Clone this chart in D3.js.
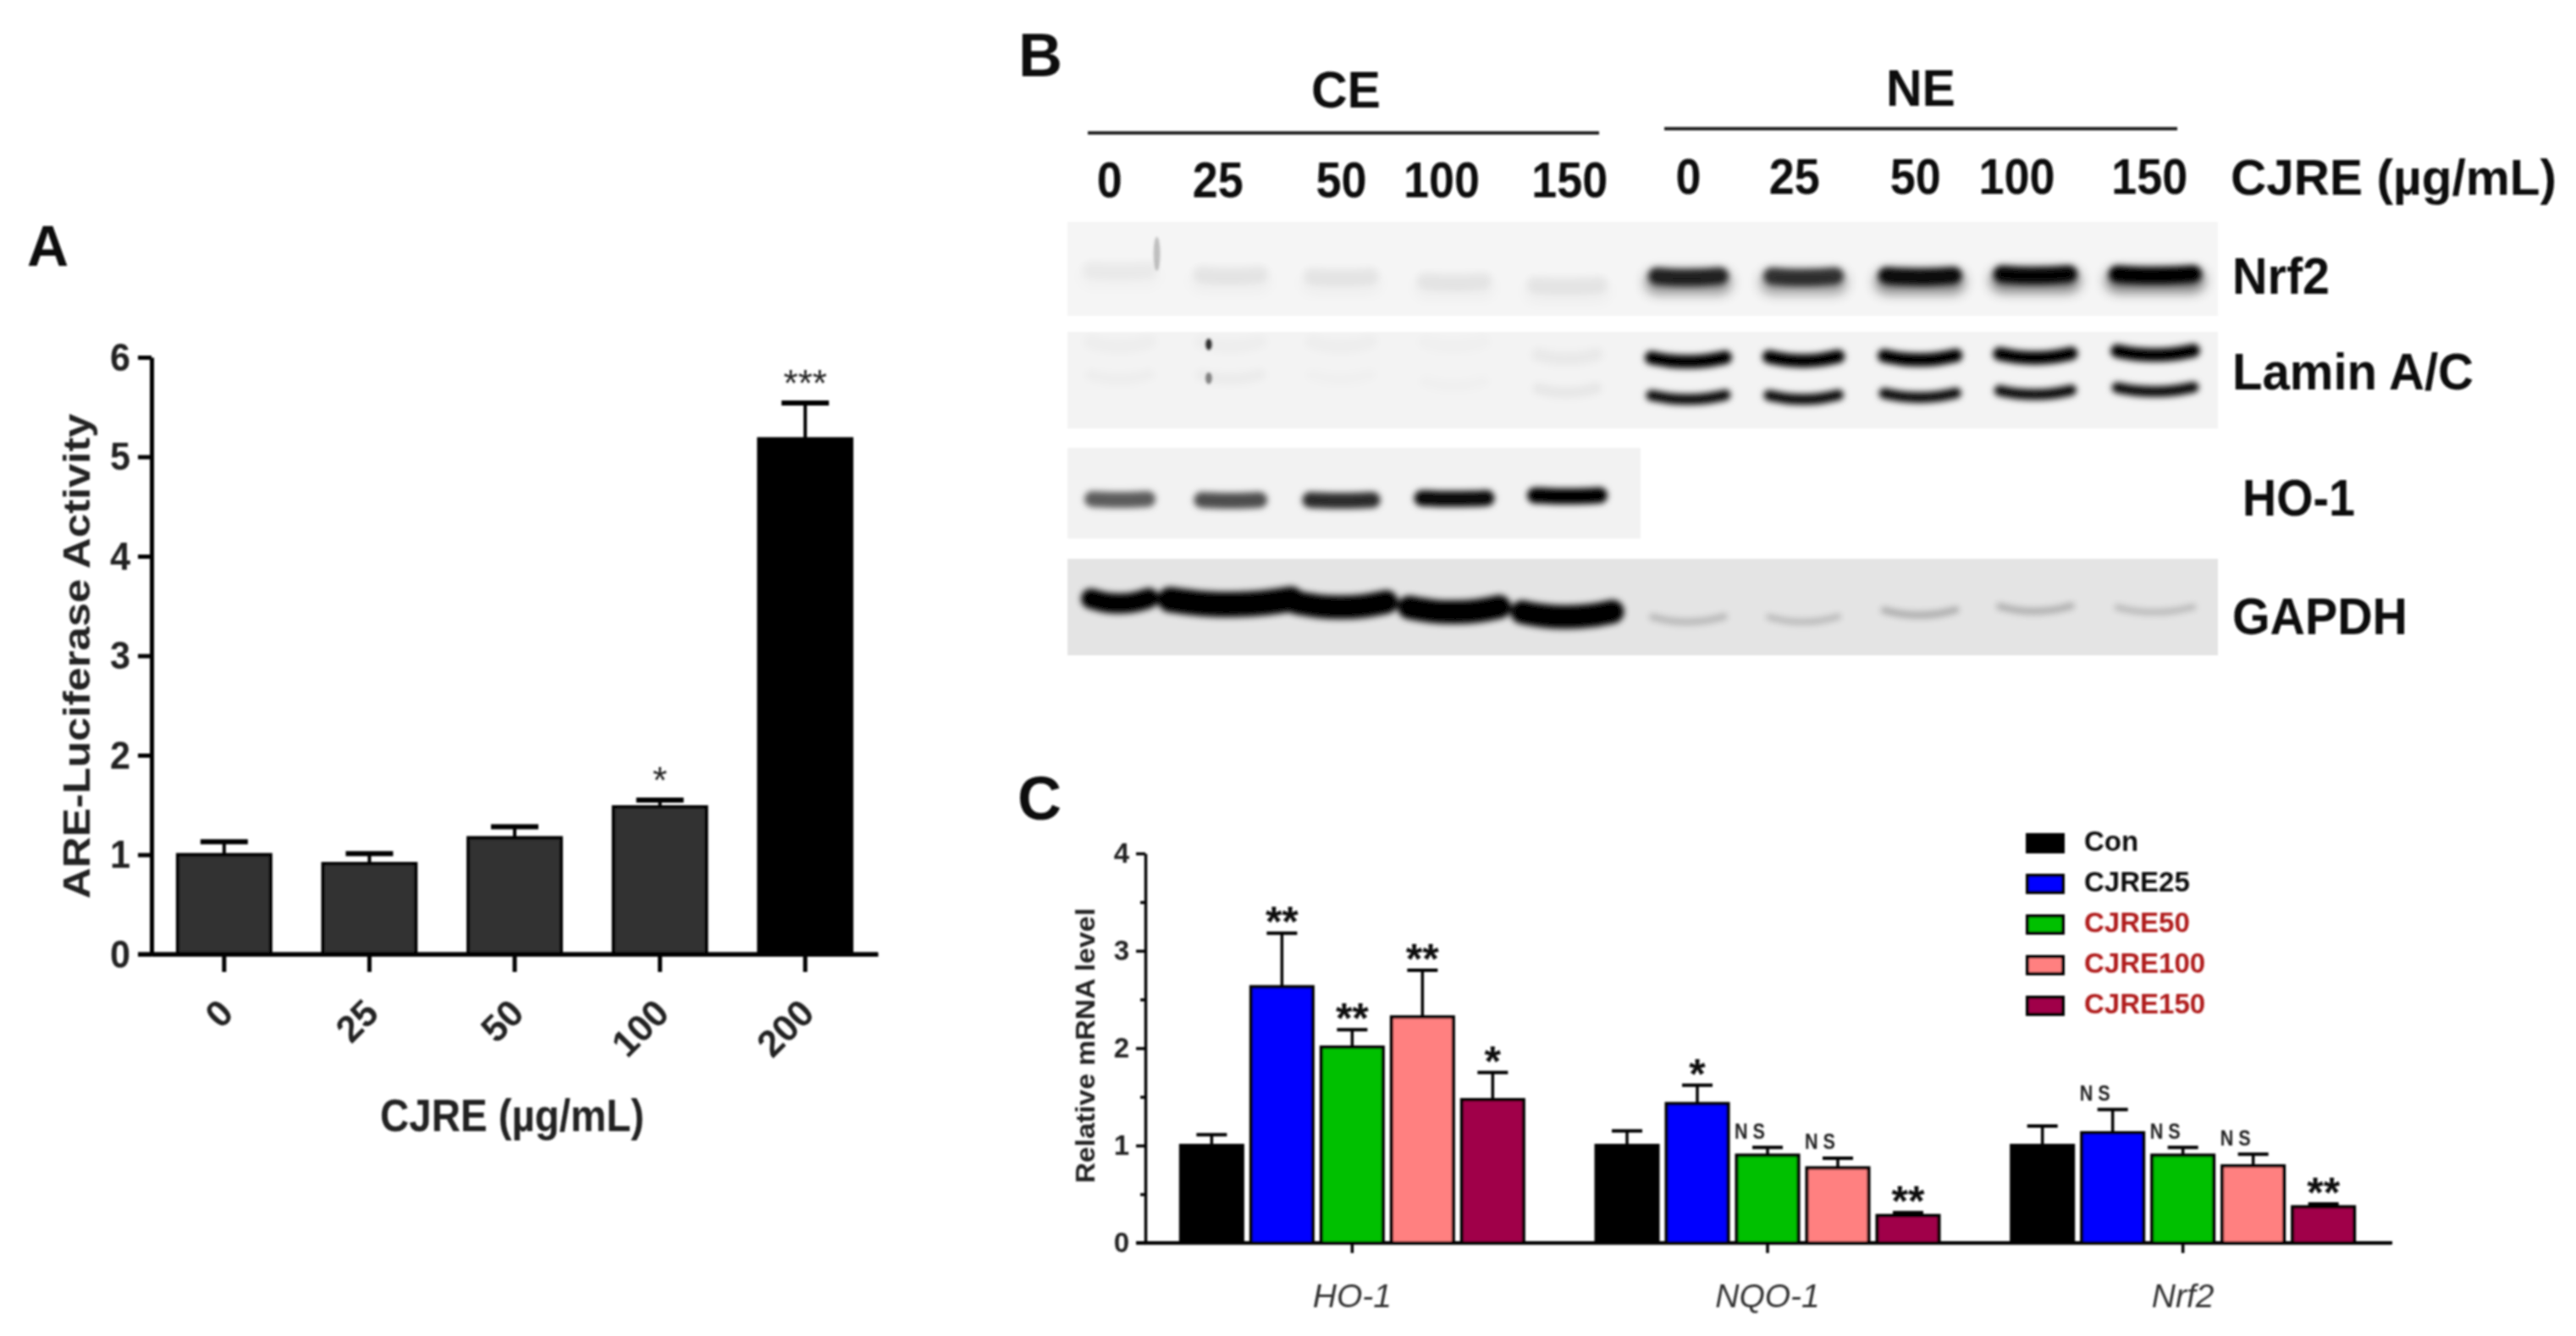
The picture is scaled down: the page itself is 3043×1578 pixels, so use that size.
<!DOCTYPE html>
<html lang="en">
<head>
    <meta charset="UTF-8">
    <title>CJRE panels</title>
    <style>
        body { margin: 0; background: #fff; }
        svg { display: block; }
        text { font-family: "Liberation Sans", Arial, sans-serif; }
    </style>
</head>
<body>
    <svg id="fig" width="3043" height="1578"></svg>
    <script src="https://d3js.org/d3.v7.min.js"></script>
    <script>
        // Panel A values
        var doseA = ["0", "25", "50", "100", "200"];
        var meanA = [1.0, 0.91, 1.17, 1.48, 5.18];
        var errTopA = [1.13, 1.01, 1.28, 1.55, 5.54];
        var sigA = ["", "", "", "*", "***"];

        // Panel C values
        var genes = ["HO-1", "NQO-1", "Nrf2"];
        var groupsC = ["Con", "CJRE25", "CJRE50", "CJRE100", "CJRE150"];
        var coloursC = ["#000000", "#0000ff", "#00c000", "#ff8080", "#a00048"];
        var legendInk = ["#111111", "#111111", "#b01c1c", "#b01c1c", "#b01c1c"];
        var meanC = [[1.0, 2.63, 2.01, 2.32, 1.47], [1.0, 1.43, 0.9, 0.77, 0.28], [1.0, 1.13, 0.9, 0.79, 0.37]];
        var errTopC = [[1.11, 3.18, 2.19, 2.8, 1.75], [1.15, 1.62, 0.98, 0.87, 0.31], [1.2, 1.37, 0.98, 0.91, 0.4]];
        var sigC = [["", "**", "**", "**", "*"], ["", "*", "N S", "N S", "**"], ["", "N S", "N S", "N S", "**"]];

        // Panel B: lane position in lane units, band position in % of blot height, density 0-1
        var laneLabels = ["0", "25", "50", "100", "150", "0", "25", "50", "100", "150"];
        var laneCentres = [0, 0.96, 1.92, 2.9, 3.88, 4.93, 5.93, 6.94, 7.94, 8.98];
        var labelCentres = [-0.09, 0.85, 1.92, 2.79, 3.9, 4.93, 5.85, 6.9, 7.78, 8.93];
        var nrf2Pos = [52, 57, 59, 64, 68, 58.5, 58.5, 58, 56.5, 56.5];
        var nrf2Density = [0.03, 0.05, 0.05, 0.05, 0.05, 0.8, 0.72, 0.92, 0.97, 1];
        var nrf2Width = [0.5, 0.5, 0.5, 0.5, 0.55, 0.55, 0.55, 0.58, 0.58, 0.66];
        var laminUpPos = [13, 13, 13, 13, 26, 29, 28, 27, 25, 22];
        var laminUpDensity = [0.02, 0.02, 0.02, 0.01, 0.04, 1, 1, 1, 1, 1];
        var laminLowPos = [47, 47, 47, 54, 61, 68, 68, 66, 63, 60];
        var laminLowDensity = [0.02, 0.03, 0.01, 0.01, 0.05, 0.95, 0.95, 0.95, 0.95, 0.95];
        var laminWidth = [0.5, 0.5, 0.5, 0.5, 0.5, 0.64, 0.6, 0.62, 0.62, 0.66];
        var ho1Pos = [57, 58, 58, 56, 53];
        var ho1Density = [0.62, 0.68, 0.82, 0.97, 1];
        var ho1Width = [0.48, 0.5, 0.54, 0.56, 0.56];
        var gapdhPos = [44, 45, 48, 53, 58, 63, 63, 56, 52, 53];
        var gapdhDensity = [1, 1, 1, 1, 1, 0.2, 0.2, 0.25, 0.24, 0.2];
        var gapdhWidth = [0.5, 1.05, 0.78, 0.78, 0.78, 0.62, 0.6, 0.62, 0.62, 0.66];
        var gapdhThick = [24, 30, 28, 28, 28, 8, 7, 8, 8, 7];
        var specksLane = [0.32, 0.77, 0.77];
        var specksBlot = ["nrf2", "lamin", "lamin"];
        var specksPos = [34, 13, 48];
        var specksDensity = [0.22, 0.8, 0.45];

        var svg = d3.select("#fig");
        var defs = svg.append("defs");
        function blurFilter(id, sd) {
            defs.append("filter").attr("id", id)
                .attr("filterUnits", "userSpaceOnUse")
                .attr("x", 0).attr("y", 0).attr("width", 3043).attr("height", 1578)
                .append("feGaussianBlur").attr("stdDeviation", sd);
        }
        blurFilter("soft", 1.1);
        blurFilter("band", 3.5);
        blurFilter("smear", 7);

        var root = svg.append("g").attr("filter", "url(#soft)");

        // text helper, y is the vertical middle of the text
        function label(g, str, x, y, size, o) {
            o = o || {};
            var t = g.append("text")
                .attr("transform", "translate(" + x + "," + y + ")" + (o.rotate ? " rotate(" + o.rotate + ")" : ""))
                .attr("dy", "0.36em")
                .attr("text-anchor", o.anchor || "middle")
                .attr("font-size", size)
                .attr("font-weight", o.weight || "bold")
                .attr("font-style", o.style || "normal")
                .attr("fill", o.fill || "#111")
                .text(str);
            if (o.len) t.attr("textLength", o.len).attr("lengthAdjust", "spacingAndGlyphs");
            return t;
        }

        label(root, "A", 32, 290, 68, { anchor: "start" });
        label(root, "B", 1203, 64, 72, { anchor: "start" });
        label(root, "C", 1202, 942, 72, { anchor: "start" });

        // ---------- Panel A ----------
        var gA = root.append("g");
        var xA = d3.scaleBand().domain(doseA).range([179, 1037]).paddingInner(0.36).paddingOuter(0.18);
        var yA = d3.scaleLinear().domain([0, 6]).range([1127, 422]);

        function errorBars(g, cx, top, base, capW, capSW, stemSW) {
            g.append("line").attr("x1", cx).attr("x2", cx).attr("y1", top).attr("y2", base)
                .attr("stroke", "#000").attr("stroke-width", stemSW);
            g.append("line").attr("x1", cx - capW / 2).attr("x2", cx + capW / 2).attr("y1", top).attr("y2", top)
                .attr("stroke", "#000").attr("stroke-width", capSW);
        }

        doseA.forEach(function (d, i) {
            var cx = xA(d) + xA.bandwidth() / 2;
            errorBars(gA, cx, yA(errTopA[i]), yA(meanA[i]), 56, 6, 4);
            gA.append("rect")
                .attr("x", xA(d)).attr("y", yA(meanA[i]))
                .attr("width", xA.bandwidth()).attr("height", yA(0) - yA(meanA[i]))
                .attr("fill", i == 4 ? "#000" : "#333")
                .attr("stroke", "#000").attr("stroke-width", 4);
            if (sigA[i]) label(gA, sigA[i], cx, yA(errTopA[i]) - 24, 44, { weight: "normal", fill: "#222" });
        });

        var axisAy = gA.append("g").attr("transform", "translate(179,0)")
            .call(d3.axisLeft(yA).tickValues([0, 1, 2, 3, 4, 5, 6]).tickFormat(d3.format("d")).tickSize(16).tickSizeOuter(0).tickPadding(9));
        var axisAx = gA.append("g").attr("transform", "translate(0,1127)")
            .call(d3.axisBottom(xA).tickSize(21).tickSizeOuter(0));
        axisAy.selectAll("text").attr("font-size", 47).attr("font-weight", "bold").attr("fill", "#222")
            .attr("textLength", 24).attr("lengthAdjust", "spacingAndGlyphs")
            .attr("font-family", "Liberation Sans");
        axisAx.selectAll("text").remove();
        doseA.forEach(function (d) {
            var cx = xA(d) + xA.bandwidth() / 2;
            label(gA, d, cx + 2, 1188, 44, { anchor: "end", rotate: -45, fill: "#222" });
        });
        gA.selectAll(".domain, .tick line").attr("stroke", "#000").attr("stroke-width", 5);
        // x axis line also runs through the y tick at zero
        gA.append("line").attr("x1", 163).attr("x2", 1037).attr("y1", yA(0)).attr("y2", yA(0))
            .attr("stroke", "#000").attr("stroke-width", 5);

        label(gA, "ARE-Luciferase Activity", 90, 775, 44, { rotate: -90, len: 573, fill: "#222" });
        label(gA, "CJRE (\u00b5g/mL)", 605, 1317, 54, { len: 312, fill: "#222" });

        // ---------- Panel B ----------
        var gB = root.append("g");
        var xLane = d3.scaleLinear().domain([0, 8.98]).range([1323, 2546]);
        var laneUnit = xLane(1) - xLane(0);

        function blot(x0, x1, y0, y1, bg) {
            gB.append("rect").attr("x", x0).attr("y", y0).attr("width", x1 - x0).attr("height", y1 - y0).attr("fill", bg);
            return d3.scaleLinear().domain([0, 100]).range([y0, y1]);
        }
        var bandLine = d3.line().curve(d3.curveBasis);
        function bands(y, pos, density, width, thick, bow, filter) {
            var g = gB.append("g").attr("filter", "url(#" + filter + ")");
            pos.forEach(function (p, i) {
                var cx = xLane(laneCentres[i]), cy = y(p), w = width[i] * laneUnit;
                var t = typeof thick == "number" ? thick : thick[i];
                g.append("path")
                    .attr("d", bandLine([[cx - w / 2, cy - bow], [cx - w / 4, cy + bow * 0.7], [cx, cy + bow],
                        [cx + w / 4, cy + bow * 0.6], [cx + w / 2, cy - bow * 1.2]]))
                    .attr("fill", "none").attr("stroke", "#000").attr("stroke-linecap", "round")
                    .attr("stroke-width", t).attr("stroke-opacity", density[i]);
            });
        }

        var yNrf2 = blot(1261, 2620, 262, 373, "#f5f5f5");
        var yLamin = blot(1261, 2620, 392, 506, "#f3f3f3");
        var yHo1 = blot(1261, 1938, 529, 636, "#f2f2f2");
        var yGapdh = blot(1261, 2620, 660, 774, "#e4e4e4");

        bands(yNrf2, nrf2Pos.map(function (p) { return p + 6; }), nrf2Density.map(function (d) { return d * 0.5; }), nrf2Width, 28, 0, "smear");
        bands(yNrf2, nrf2Pos, nrf2Density, nrf2Width, 20, 1, "band");
        bands(yLamin, laminUpPos, laminUpDensity, laminWidth, 16, 2.5, "band");
        bands(yLamin, laminLowPos, laminLowDensity, laminWidth, 13, 2.5, "band");
        bands(yHo1, ho1Pos, ho1Density, ho1Width, 19, 0.5, "band");
        bands(yGapdh, gapdhPos, gapdhDensity, gapdhWidth, gapdhThick, 3, "band");

        specksLane.forEach(function (l, i) {
            var y = specksBlot[i] == "nrf2" ? yNrf2 : yLamin;
            gB.append("ellipse").attr("cx", xLane(l)).attr("cy", y(specksPos[i]))
                .attr("rx", 4).attr("ry", specksBlot[i] == "nrf2" ? 20 : 7)
                .attr("fill", "#000").attr("fill-opacity", specksDensity[i]).attr("filter", "url(#soft)");
        });

        // header
        label(gB, "CE", 1590, 105, 62, { len: 82 });
        label(gB, "NE", 2269, 103, 62, { len: 82 });
        gB.append("line").attr("x1", 1285).attr("x2", 1889).attr("y1", 157).attr("y2", 157).attr("stroke", "#222").attr("stroke-width", 4);
        gB.append("line").attr("x1", 1966).attr("x2", 2572).attr("y1", 152).attr("y2", 152).attr("stroke", "#222").attr("stroke-width", 4);
        laneLabels.forEach(function (d, i) {
            label(gB, d, xLane(labelCentres[i]), i < 5 ? 211 : 207, 60, { len: d.length * 30 });
        });
        label(gB, "CJRE (\u00b5g/mL)", 2635, 208, 60, { anchor: "start", len: 385 });
        label(gB, "Nrf2", 2637, 325, 62, { anchor: "start", len: 115 });
        label(gB, "Lamin A/C", 2637, 438, 62, { anchor: "start", len: 285 });
        label(gB, "HO-1", 2649, 587, 62, { anchor: "start", len: 133 });
        label(gB, "GAPDH", 2637, 727, 62, { anchor: "start", len: 207 });

        // ---------- Panel C ----------
        var gC = root.append("g");
        var xC = d3.scaleBand().domain(genes).range([1352, 2824]);
        var xInner = d3.scaleBand().domain(groupsC).range([-202.5, 202.5]).paddingInner(0.12);
        var yC = d3.scaleLinear().domain([0, 4]).range([1468, 1008]);

        genes.forEach(function (gene, g) {
            var cg = xC(gene) + xC.bandwidth() / 2;
            groupsC.forEach(function (grp, i) {
                var x = cg + xInner(grp), cx = x + xInner.bandwidth() / 2;
                errorBars(gC, cx, yC(errTopC[g][i]), yC(meanC[g][i]), 36, 4, 3.5);
                gC.append("rect")
                    .attr("x", x).attr("y", yC(meanC[g][i]))
                    .attr("width", xInner.bandwidth()).attr("height", yC(0) - yC(meanC[g][i]))
                    .attr("fill", coloursC[i]).attr("stroke", "#000").attr("stroke-width", 4);
                var s = sigC[g][i];
                if (s == "N S") {
                    label(gC, s, cx - 21, yC(errTopC[g][i]) - 20, 26, { len: 36, fill: "#222" });
                } else if (s) {
                    label(gC, s, cx, yC(errTopC[g][i]) - 14, 50, { fill: "#111" });
                }
            });
            label(gC, gene, cg, 1530, 39, { weight: "normal", style: "italic", fill: "#333" });
        });

        var axisCy = gC.append("g").attr("transform", "translate(1353,0)")
            .call(d3.axisLeft(yC).tickValues([0, 1, 2, 3, 4]).tickFormat(d3.format("d")).tickSize(11).tickSizeOuter(0).tickPadding(8));
        axisCy.selectAll("text").attr("font-size", 33).attr("font-weight", "bold").attr("fill", "#222")
            .attr("font-family", "Liberation Sans");
        gC.append("g").attr("transform", "translate(1353,0)")
            .call(d3.axisLeft(yC).tickValues([0.5, 1.5, 2.5, 3.5]).tickSize(6).tickFormat(""))
            .select(".domain").remove();
        var axisCx = gC.append("g").attr("transform", "translate(0,1468)")
            .call(d3.axisBottom(xC).tickSize(12).tickSizeOuter(0).tickFormat(""));
        gC.selectAll(".domain, .tick line").attr("stroke", "#000").attr("stroke-width", 3.5);
        gC.append("line").attr("x1", 1342).attr("x2", 2826).attr("y1", yC(0)).attr("y2", yC(0))
            .attr("stroke", "#000").attr("stroke-width", 4);

        label(gC, "Relative mRNA level", 1281, 1235, 32, { rotate: -90, len: 325, fill: "#222" });

        // legend
        var yLegend = d3.scalePoint().domain(groupsC).range([996, 1188]);
        groupsC.forEach(function (grp, i) {
            gC.append("rect").attr("x", 2395).attr("y", yLegend(grp) - 10).attr("width", 42).attr("height", 20)
                .attr("fill", coloursC[i]).attr("stroke", "#000").attr("stroke-width", 4);
            label(gC, grp, 2462, yLegend(grp) - 3, 33, { anchor: "start", fill: legendInk[i] });
        });
    </script>
</body>
</html>
